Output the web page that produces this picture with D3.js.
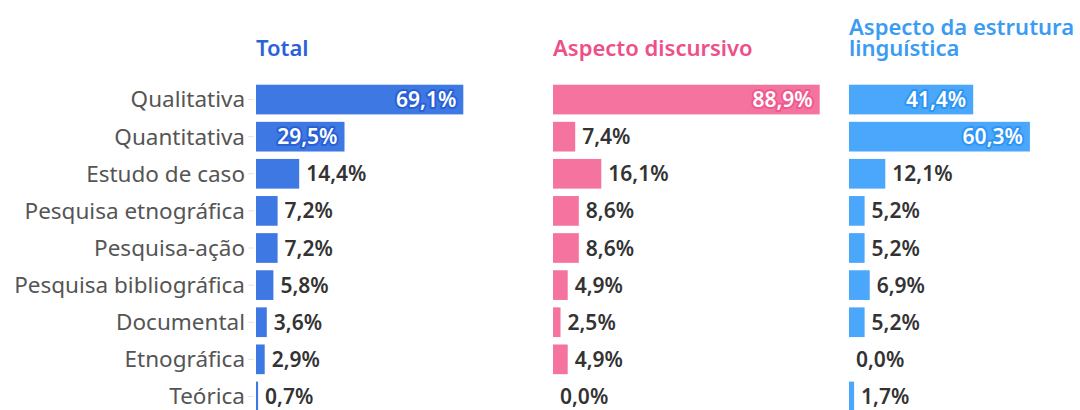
<!DOCTYPE html>
<html>
<head>
<meta charset="utf-8">
<script src="https://cdn.jsdelivr.net/npm/d3@7"></script>
<style>
	body { margin: 0; background: #fff; }
	text { font-family: "Noto Sans", "Open Sans", sans-serif; }
</style>
</head>
<body>
<div id="chart"></div>
<script>
// categories, top to bottom
const categories = [
	"Qualitativa",
	"Quantitativa",
	"Estudo de caso",
	"Pesquisa etnográfica",
	"Pesquisa-ação",
	"Pesquisa bibliográfica",
	"Documental",
	"Etnográfica",
	"Teórica",
]

const totalValues = [69.1, 29.5, 14.4, 7.2, 7.2, 5.8, 3.6, 2.9, 0.7]
const discursivoValues = [88.9, 7.4, 16.1, 8.6, 8.6, 4.9, 2.5, 4.9, 0.0]
const estruturaValues = [41.4, 60.3, 12.1, 5.2, 5.2, 6.9, 5.2, 0.0, 1.7]

const panelTitles = [["Total"], ["Aspecto discursivo"], ["Aspecto da estrutura", "linguística"]]

const width = 1080
const height = 410

const panels = [
	{ values: totalValues, x: 256, bar: "#3d78e3", title: "#2a62dc", halo: "#2a5fd6" },
	{ values: discursivoValues, x: 553, bar: "#f4739f", title: "#ef4f88", halo: "#ef5a8e" },
	{ values: estruturaValues, x: 849, bar: "#4aa7fb", title: "#3b9cf2", halo: "#2f95f2" },
]

const fmt = (v) => v.toFixed(1).replace(".", ",") + "%"

const svg = d3
	.select("#chart")
	.append("svg")
	.attr("width", width)
	.attr("height", height)

// shared row scale
const y = d3.scaleBand().domain(categories).range([81, 415]).paddingInner(0.2).paddingOuter(0.1)

// category labels
const labels = svg.append("g").attr("class", "y-axis")
categories.forEach((c) => {
	labels
		.append("text")
		.attr("x", 245)
		.attr("y", y(c) + y.bandwidth() / 2)
		.attr("dy", "0.35em")
		.attr("text-anchor", "end")
		.attr("font-size", 22.5)
		.attr("fill", "#555")
		.text(c)
	labels
		.append("line")
		.attr("x1", 248)
		.attr("x2", 254)
		.attr("y1", y(c) + y.bandwidth() / 2)
		.attr("y2", y(c) + y.bandwidth() / 2)
		.attr("stroke", "#e4e4e4")
})

panels.forEach((p, i) => {
	const x = d3.scaleLinear().domain([0, 100]).range([0, 300])
	const g = svg.append("g").attr("transform", `translate(${p.x},0)`)

	// title (one text, wrapped lines as tspans)
	const lines = panelTitles[i]
	const title = g
		.append("text")
		.attr("y", 56 - (lines.length - 1) * 21)
		.attr("font-size", 22)
		.attr("font-weight", 600)
		.attr("fill", p.title)
	lines.forEach((t, j) => {
		title
			.append("tspan")
			.attr("x", 0)
			.attr("dy", j === 0 ? 0 : 21)
			.text(t)
	})

	// bars
	g.selectAll("rect")
		.data(p.values)
		.join("rect")
		.attr("x", 0)
		.attr("y", (d, k) => y(categories[k]))
		.attr("width", (d) => x(d))
		.attr("height", y.bandwidth())
		.attr("fill", p.bar)

	// value labels
	p.values.forEach((v, k) => {
		const inside = x(v) > 75
		const t = g
			.append("text")
			.attr("y", y(categories[k]) + y.bandwidth() / 2)
			.attr("dy", "0.36em")
			.attr("font-size", 21)
			.attr("font-weight", 600)
			.text(fmt(v))
		if (inside) {
			t.attr("x", x(v) - 7)
				.attr("text-anchor", "end")
				.attr("fill", "#fff")
				.attr("stroke", p.halo)
				.attr("stroke-width", 4)
				.attr("paint-order", "stroke")
				.attr("stroke-linejoin", "round")
		} else {
			t.attr("x", x(v) + 7).attr("fill", "#333")
		}
	})
})
</script>
</body>
</html>
